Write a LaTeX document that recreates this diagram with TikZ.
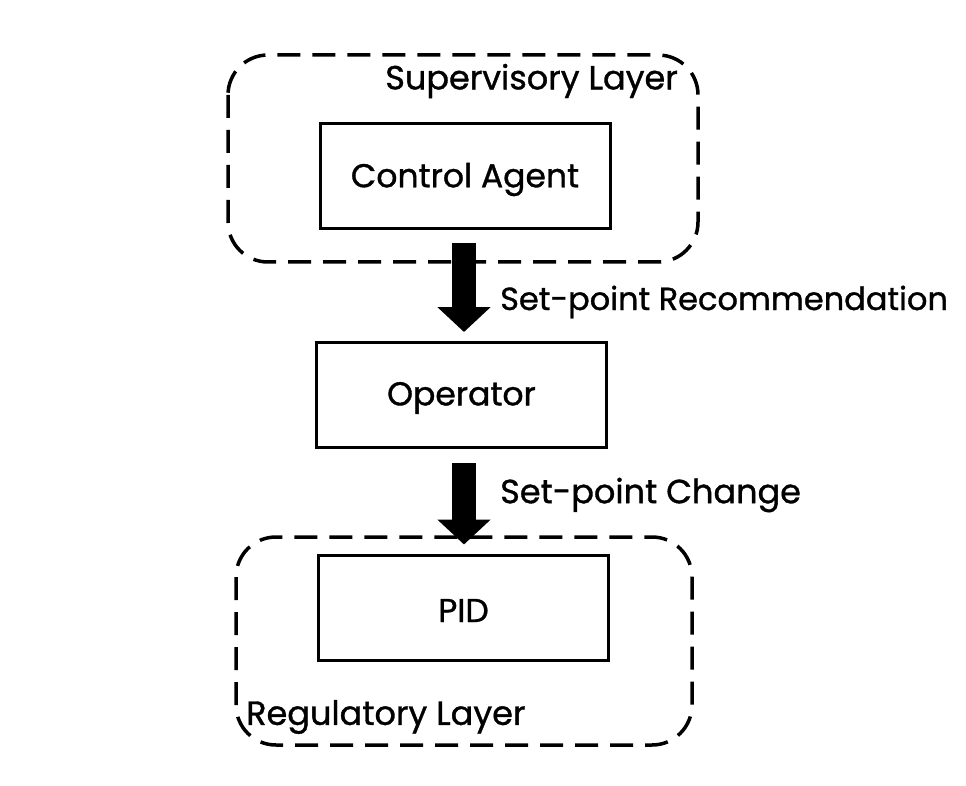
\documentclass[tikz,border=0pt]{standalone}
\usepackage{fontspec}
\setmainfont{Poppins}[FakeBold=1]
\usetikzlibrary{arrows.meta}
\begin{document}
\begin{tikzpicture}[x=1pt,y=-1pt,
  box/.style={draw, line width=3pt, minimum width=290pt, minimum height=105pt, font=\fontsize{33}{38}\selectfont},
  boxtext/.style={font=\fontsize{33}{38}\selectfont, inner sep=0pt},
  layer/.style={draw, line width=3.5pt, dash pattern=on 23pt off 12pt, rounded corners=40pt},
  lbl/.style={font=\fontsize{33.5}{38}\selectfont, inner sep=0pt},
  bigarrow/.style={line width=24pt, -{Triangle[width=52pt,length=25pt]}}]
\useasboundingbox (0,0) rectangle (966,786);
\draw[layer] (228,55) rectangle (698,262);
\draw[layer] (236,537) rectangle (692,745);
\node[box] (ca) at (465,176.5) {};
\node[box] (op) at (461.5,395) {};
\node[box] (pid) at (463.5,607.5) {};
\node[boxtext] (cat) at ([yshift=-3pt]ca.center) {Control Agent};
\node[boxtext] (opt) at ([yshift=-3pt]op.center) {Operator};
\node[boxtext] (pidt) at ([yshift=-3pt]pid.center) {PID};
\node[lbl, anchor=east] (sup) at (678,81) {Supervisory Layer};
\node[lbl, anchor=west] (reg) at (246,717) {Regulatory Layer};
\node[lbl, anchor=west, font=\fontsize{32}{38}\selectfont] (rec) at (500,302) {Set-point Recommendation};
\node[lbl, anchor=west] (chg) at (500,495) {Set-point Change};
\draw[bigarrow] ([yshift=-13pt]ca.south -| 464,0) -- ([yshift=9pt]op.north -| 464,0);
\draw[bigarrow] ([yshift=-14pt]op.south -| 464,0) -- ([yshift=9pt]pid.north -| 464,0);
\end{tikzpicture}
\end{document}
